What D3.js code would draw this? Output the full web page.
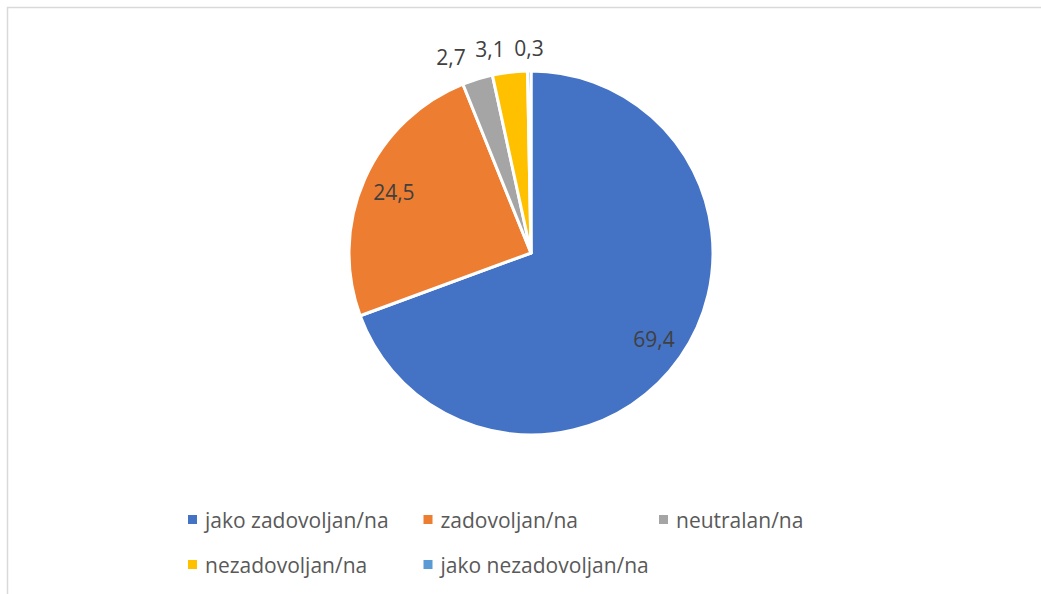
<!DOCTYPE html>
<html>
<head>
<meta charset="utf-8">
<script src="https://cdn.jsdelivr.net/npm/d3@7"></script>
<style>
  html, body { margin: 0; padding: 0; background: #fff; }
  svg { display: block; }
  text { font-family: "Open Sans", "Noto Sans", sans-serif; }
</style>
</head>
<body>
<svg id="chart" width="1041" height="594"></svg>
<script>
const categories = ["jako zadovoljan/na", "zadovoljan/na", "neutralan/na", "nezadovoljan/na", "jako nezadovoljan/na"];
const values = [69.4, 24.5, 2.7, 3.1, 0.3];
const valueLabels = ["69,4", "24,5", "2,7", "3,1", "0,3"];
const colors = ["#4472C4", "#ED7D31", "#A5A5A5", "#FFC000", "#5B9BD5"];

const W = 1041, H = 594;
const svg = d3.select("#chart");

// chart area border (cut off at right and bottom)
svg.append("path")
  .attr("d", "M7.5,594 L7.5,7.5 L1041,7.5")
  .attr("fill", "none")
  .attr("stroke", "#d9d9d9")
  .attr("stroke-width", 1.5);

const cx = 531, cy = 253, R = 182;
const data = categories.map((c, i) => ({ cat: c, value: values[i], label: valueLabels[i], color: colors[i] }));

const pie = d3.pie().value(d => d.value).sort(null);
const arcs = pie(data);
const arc = d3.arc().innerRadius(0).outerRadius(R);

const g = svg.append("g").attr("transform", `translate(${cx},${cy})`);
g.selectAll("path.slice")
  .data(arcs)
  .join("path")
  .attr("class", "slice")
  .attr("d", arc)
  .attr("fill", d => d.data.color)
  .attr("stroke", "#fff")
  .attr("stroke-width", 3)
  .attr("stroke-linejoin", "round");

// labels: inside for large slices, outside for small ones
const inArc = d3.arc().innerRadius(150).outerRadius(150);
const labelPos = arcs.map(a => {
  const mid = (a.startAngle + a.endAngle) / 2;
  const big = (a.endAngle - a.startAngle) > 0.5;
  if (big) {
    const [x, y] = inArc.centroid(a);
    return { a, x, y, big };
  }
  const r = R + 23;
  return { a, x: Math.sin(mid) * r, y: -Math.cos(mid) * r, big };
});
// avoid overlap among outside labels (right to left)
const outs = labelPos.filter(p => !p.big).sort((p, q) => q.x - p.x);
const minGap = 39;
for (let i = 1; i < outs.length; i++) {
  if (outs[i].x > outs[i - 1].x - minGap) outs[i].x = outs[i - 1].x - minGap;
}
g.selectAll("text.val")
  .data(labelPos)
  .join("text")
  .attr("class", "val")
  .attr("x", d => d.x)
  .attr("y", d => d.y)
  .attr("text-anchor", "middle")
  .attr("dominant-baseline", "central")
  .attr("fill", "#404040")
  .attr("font-size", 21)
  .text(d => d.a.data.label);

// legend
const colX = d3.scaleOrdinal().domain([0, 1, 2]).range([188, 423.5, 659]);
const rowY = d3.scaleOrdinal().domain([0, 1]).range([519.5, 564.5]);
const leg = svg.append("g");
const items = leg.selectAll("g.item")
  .data(data)
  .join("g")
  .attr("class", "item")
  .attr("transform", (d, i) => `translate(${colX(i % 3)},${rowY(Math.floor(i / 3))})`);
items.append("rect")
  .attr("x", 0).attr("y", -4.5)
  .attr("width", 9).attr("height", 9)
  .attr("fill", d => d.color);
items.append("text")
  .attr("x", 17)
  .attr("y", 0)
  .attr("dominant-baseline", "central")
  .attr("fill", "#595959")
  .attr("font-size", 21)
  .text(d => d.cat);
</script>
</body>
</html>
